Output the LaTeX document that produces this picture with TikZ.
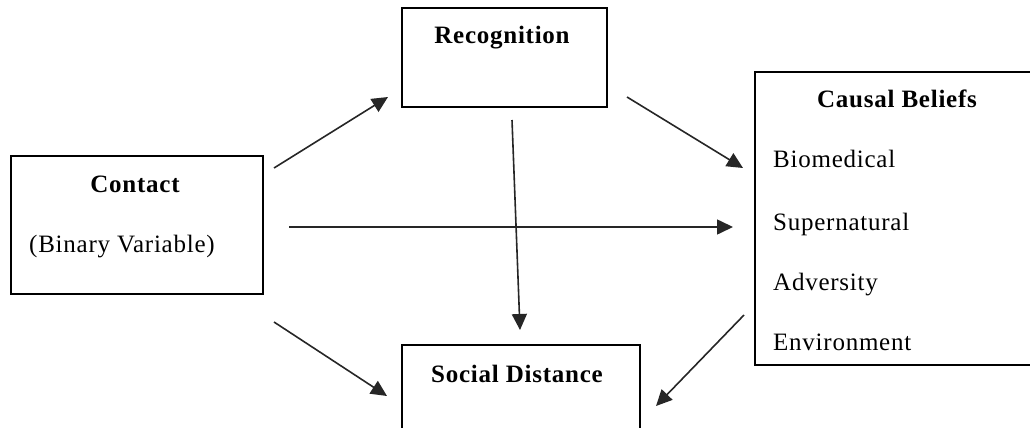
\documentclass[tikz,border=0pt]{standalone}
\usepackage{fontspec}
\setmainfont{Liberation Serif}[LetterSpace=3]
\usetikzlibrary{arrows.meta}
\begin{document}
\begin{tikzpicture}[x=1pt,y=-1pt,
  box/.style={draw, line width=1.6pt, inner sep=0pt},
  txt/.style={font=\fontsize{25}{30}\selectfont, inner sep=0pt},
  ttl/.style={txt, font=\fontsize{25}{30}\selectfont\bfseries},
  arr/.style={line width=1.6pt, draw=black!85, -{Triangle[length=16pt,width=15pt]}}]
  \useasboundingbox (0,0) rectangle (1030,428);
  \clip (0,0) rectangle (1030,428);

  % boxes
  \node[box, minimum width=252pt, minimum height=138pt] (contact) at (137,225) {};
  \node[box, minimum width=205pt, minimum height=99pt] (recog) at (504.5,57.5) {};
  \node[box, minimum width=285pt, minimum height=293pt] (causal) at (897.5,218.5) {};
  \node[box, minimum width=238pt, minimum height=100pt] (social) at (521,395) {};

  % texts
  \node[ttl, anchor=base] (contactT) at (135,192) {Contact};
  \node[txt, anchor=base west] (contactS) at (29,252) {(Binary Variable)};
  \node[ttl, anchor=base] (recogT) at (502,44) {Recognition};
  \node[ttl, anchor=base] (causalT) at (897,107) {Causal Beliefs};
  \node[txt, anchor=base west] (cb1) at (773,167) {Biomedical};
  \node[txt, anchor=base west] (cb2) at (773,230) {Supernatural};
  \node[txt, anchor=base west] (cb3) at (773,290) {Adversity};
  \node[txt, anchor=base west] (cb4) at (773,350) {Environment};
  \node[ttl, anchor=base] (socialT) at (517,382) {Social Distance};

  % connector end points
  \coordinate (cr1) at (274,168);  \coordinate (cr2) at (388,97);
  \coordinate (rc1) at (627,97);   \coordinate (rc2) at (743,168);
  \coordinate (cc1) at (289,227);  \coordinate (cc2) at (733,227);
  \coordinate (rs1) at (512,120);  \coordinate (rs2) at (520,330);
  \coordinate (cs1) at (274,322);  \coordinate (cs2) at (387,396);
  \coordinate (bs1) at (744,315);  \coordinate (bs2) at (656,406);

  % connectors
  \draw[arr] (cr1) -- (cr2);
  \draw[arr] (rc1) -- (rc2);
  \draw[arr] (cc1) -- (cc2);
  \draw[arr] (rs1) -- (rs2);
  \draw[arr] (cs1) -- (cs2);
  \draw[arr] (bs1) -- (bs2);
\end{tikzpicture}
\end{document}
